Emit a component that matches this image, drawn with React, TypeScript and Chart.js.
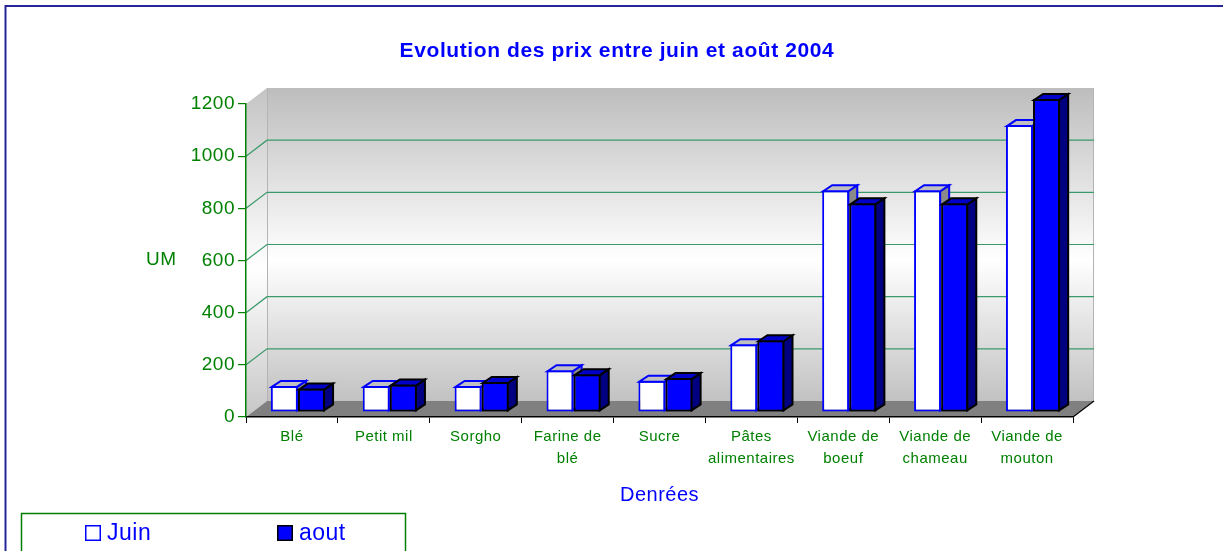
import React, { useEffect, useRef } from 'react';
import { Chart, registerables } from 'chart.js';

Chart.register(...registerables);

// ---- data ----
const categories: string[][] = [
  ['Blé'],
  ['Petit mil'],
  ['Sorgho'],
  ['Farine de', 'blé'],
  ['Sucre'],
  ['Pâtes', 'alimentaires'],
  ['Viande de', 'boeuf'],
  ['Viande de', 'chameau'],
  ['Viande de', 'mouton'],
];
const juin = [100, 100, 100, 160, 120, 260, 850, 850, 1100];
const aout = [90, 105, 115, 145, 130, 275, 800, 800, 1200];
const yTicks = [0, 200, 400, 600, 800, 1000, 1200];
const seriesNames = ['Juin', 'aout'];
const chartTitle = 'Evolution des prix entre juin et août 2004';
const xTitle = 'Denrées';
const yTitle = 'UM';

// ---- styling constants ----
const FONT = '"Liberation Sans", Arial, sans-serif';
const WALL_DX = 21;
const WALL_DY = -16;
const BAR_TX = 6;
const BAR_TY = -5;
const BAR_DX = 9;
const BAR_DY = -6;

function drawFaces(ctx: CanvasRenderingContext2D, el: any, top: string, side: string, line: string) {
  const p = el.getProps(['x', 'y', 'base', 'width'], true);
  const l = p.x - p.width / 2 + 1;
  const r = p.x + p.width / 2 - 1;
  const t = p.y + 1;
  const b = p.base - 1;
  ctx.save();
  ctx.lineWidth = 2;
  ctx.lineJoin = 'miter';
  ctx.strokeStyle = line;
  // side face
  ctx.beginPath();
  ctx.moveTo(r, t);
  ctx.lineTo(r + BAR_DX, t + BAR_DY);
  ctx.lineTo(r + BAR_DX, b + BAR_DY);
  ctx.lineTo(r, b);
  ctx.closePath();
  ctx.fillStyle = side;
  ctx.fill();
  ctx.stroke();
  // top face
  ctx.beginPath();
  ctx.moveTo(l, t);
  ctx.lineTo(l + BAR_DX, t + BAR_DY);
  ctx.lineTo(r + BAR_DX, t + BAR_DY);
  ctx.lineTo(r, t);
  ctx.closePath();
  ctx.fillStyle = top;
  ctx.fill();
  ctx.stroke();
  ctx.restore();
}

const threeD = {
  id: 'threeD',
  beforeDraw(chart: any) {
    const { ctx, chartArea: a } = chart;
    const y = chart.scales.y;
    ctx.save();
    ctx.fillStyle = '#ffffff';
    ctx.fillRect(0, 0, chart.width, chart.height);

    // outer border
    ctx.strokeStyle = '#262699';
    ctx.lineWidth = 2;
    ctx.beginPath();
    ctx.moveTo(5.5, chart.height + 2);
    ctx.lineTo(5.5, 6);
    ctx.lineTo(chart.width + 2, 6);
    ctx.stroke();

    const bl = a.left + WALL_DX;
    const br = a.right + WALL_DX;
    const bt = a.top + WALL_DY;
    const bb = a.bottom + WALL_DY;

    // back wall
    const g = ctx.createLinearGradient(0, bt, 0, bb);
    g.addColorStop(0, '#bdbdbd');
    g.addColorStop(0.55, '#ffffff');
    g.addColorStop(1, '#c2c2c2');
    ctx.fillStyle = g;
    ctx.fillRect(bl, bt, br - bl, bb - bt);

    // side wall
    const g2 = ctx.createLinearGradient(0, bt, 0, a.bottom);
    g2.addColorStop(0, '#c4c4c4');
    g2.addColorStop(0.55, '#ffffff');
    g2.addColorStop(1, '#c6c6c6');
    ctx.fillStyle = g2;
    ctx.beginPath();
    ctx.moveTo(a.left, a.top);
    ctx.lineTo(bl, bt);
    ctx.lineTo(bl, bb);
    ctx.lineTo(a.left, a.bottom);
    ctx.closePath();
    ctx.fill();
    ctx.strokeStyle = '#b4b4b4';
    ctx.lineWidth = 1;
    ctx.beginPath();
    ctx.moveTo(bl + 0.5, bt);
    ctx.lineTo(bl + 0.5, bb);
    ctx.moveTo(br - 0.5, bt);
    ctx.lineTo(br - 0.5, bb);
    ctx.stroke();

    // floor
    ctx.fillStyle = '#808080';
    ctx.beginPath();
    ctx.moveTo(a.left, a.bottom);
    ctx.lineTo(a.right, a.bottom);
    ctx.lineTo(br, bb);
    ctx.lineTo(bl, bb);
    ctx.closePath();
    ctx.fill();
    ctx.strokeStyle = '#000000';
    ctx.lineWidth = 1.2;
    ctx.beginPath();
    ctx.moveTo(a.right, a.bottom);
    ctx.lineTo(br, bb);
    ctx.stroke();

    // gridlines on back wall + side wall
    ctx.strokeStyle = '#3a9a6a';
    ctx.lineWidth = 1.2;
    for (const v of yTicks) {
      if (v === yTicks[0] || v === yTicks[yTicks.length - 1]) continue;
      const py = y.getPixelForValue(v);
      ctx.beginPath();
      ctx.moveTo(a.left, py);
      ctx.lineTo(bl, py + WALL_DY);
      ctx.lineTo(br, py + WALL_DY);
      ctx.stroke();
    }

    // title
    ctx.fillStyle = '#0000ff';
    ctx.font = `bold 21px ${FONT}`;
    ctx.textAlign = 'center';
    ctx.textBaseline = 'alphabetic';
    (ctx as any).letterSpacing = '0.6px';
    ctx.fillText(chartTitle, 617, 57);

    // axis titles
    ctx.font = `19px ${FONT}`;
    (ctx as any).letterSpacing = '0.5px';
    ctx.fillStyle = '#008000';
    ctx.textAlign = 'left';
    ctx.fillText(yTitle, 146, 265);
    ctx.font = `20px ${FONT}`;
    ctx.fillStyle = '#0000ff';
    ctx.textAlign = 'center';
    ctx.fillText(xTitle, (a.left + a.right) / 2, 501);

    // legend
    ctx.strokeStyle = '#008000';
    ctx.lineWidth = 1.5;
    ctx.strokeRect(21.5, 513.5, 384, 60);
    const items = [
      { x: 85, fill: '#ffffff', stroke: '#0000ff' },
      { x: 277, fill: '#0000ff', stroke: '#000000' },
    ];
    ctx.font = `23px ${FONT}`;
    ctx.textAlign = 'left';
    items.forEach((it, i) => {
      ctx.fillStyle = it.fill;
      ctx.fillRect(it.x, 525, 16, 16);
      ctx.strokeStyle = it.stroke;
      ctx.lineWidth = 1.5;
      ctx.strokeRect(it.x + 0.75, 525.75, 14.5, 14.5);
      ctx.fillStyle = '#0000ff';
      ctx.fillText(seriesNames[i], it.x + 22, 539.5);
    });
    ctx.restore();
    (ctx as any).letterSpacing = '0.5px';
  },
  beforeDatasetsDraw(chart: any) {
    chart.ctx.save();
    chart.ctx.translate(BAR_TX, BAR_TY);
  },
  afterDatasetsDraw(chart: any) {
    const ctx = chart.ctx;
    const m0 = chart.getDatasetMeta(0);
    const m1 = chart.getDatasetMeta(1);
    for (let i = 0; i < m0.data.length; i++) {
      drawFaces(ctx, m0.data[i], '#c0c0c0', '#8a8a8a', '#0000ff');
      m1.data[i].draw(ctx);
      drawFaces(ctx, m1.data[i], '#0000c8', '#000080', '#000000');
    }
    ctx.restore();
    (ctx as any).letterSpacing = '1.5px';
  },
};

export default function App() {
  const ref = useRef<HTMLCanvasElement>(null);
  useEffect(() => {
    if (!ref.current) return;
    const chart = new Chart(ref.current, {
      type: 'bar',
      data: {
        labels: categories,
        datasets: [
          {
            label: seriesNames[0],
            data: juin,
            backgroundColor: '#ffffff',
            borderColor: '#0000ff',
            borderWidth: 2,
            borderSkipped: false,
            categoryPercentage: 0.59,
            barPercentage: 1,
            clip: false,
          } as any,
          {
            label: seriesNames[1],
            data: aout,
            backgroundColor: '#0000ff',
            borderColor: '#000000',
            borderWidth: 2,
            borderSkipped: false,
            categoryPercentage: 0.59,
            barPercentage: 1,
            clip: false,
          } as any,
        ],
      },
      options: {
        responsive: false,
        animation: false,
        devicePixelRatio: 1,
        events: [],
        layout: { padding: { left: 0, right: 150, top: 104, bottom: 0 } },
        plugins: {
          legend: { display: false },
          title: { display: false },
          tooltip: { enabled: false },
        },
        scales: {
          x: {
            z: 0,
            grid: { drawOnChartArea: false, drawTicks: true, tickLength: 6, color: '#000000', lineWidth: 1, offset: true },
            border: { color: '#000000', width: 1.5 },
            ticks: {
              color: '#008000',
              font: { family: FONT, size: 15, lineHeight: 1.44 },
              padding: 3,
              maxRotation: 0,
              autoSkip: false,
            },
            afterFit: (s: any) => {
              s.height = 134;
            },
          },
          y: {
            z: 1,
            min: yTicks[0],
            max: yTicks[yTicks.length - 1],
            afterBuildTicks: (s: any) => {
              s.ticks = yTicks.map((v) => ({ value: v }));
            },
            grid: { drawOnChartArea: false, color: '#008000', tickLength: 8, lineWidth: 1.2 },
            border: { color: '#008000', width: 1.5 },
            ticks: {
              color: '#008000',
              font: { family: FONT, size: 19 },
              padding: 3,
              callback: (v: any) => String(v),
            },
            afterFit: (s: any) => {
              s.width = 246;
            },
          },
        },
      } as any,
      plugins: [threeD],
    });
    return () => chart.destroy();
  }, []);
  return (
    <div style={{ position: 'fixed', left: 0, top: 0, width: 1223, height: 551, background: '#fff' }}>
      <canvas ref={ref} width={1223} height={551} style={{ display: 'block' }} />
    </div>
  );
}
